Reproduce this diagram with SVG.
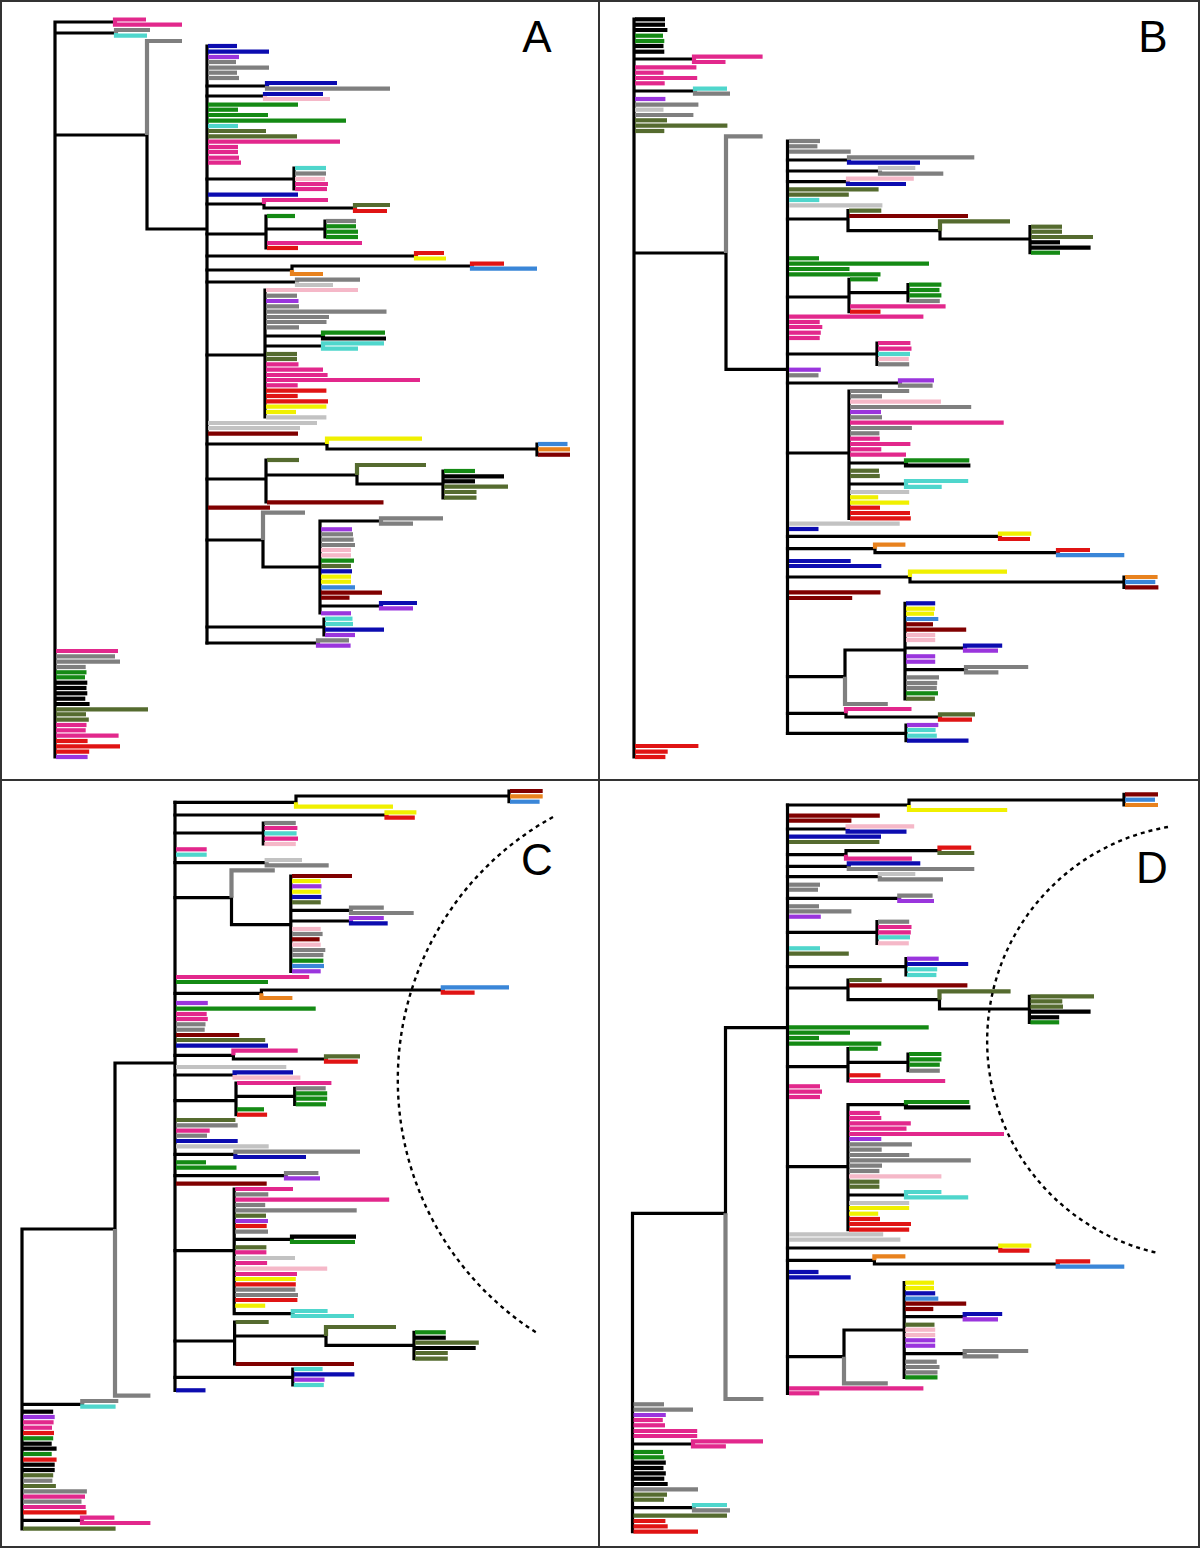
<svg xmlns="http://www.w3.org/2000/svg" width="1200" height="1548" viewBox="0 0 1200 1548">
<style>
path{fill:none}
.br path{stroke:#000;stroke-width:3.2;stroke-linecap:square}
.lv path{stroke-width:4.2}
.k{stroke:#000}.g{stroke:#7f7f7f}.s{stroke:#c2c2c2}.b{stroke:#0c0cb0}.d{stroke:#3a86d8}.p{stroke:#9a35dd}.m{stroke:#e2288c}.l{stroke:#f5b8c8}.n{stroke:#148a14}.o{stroke:#556b2f}.c{stroke:#4fd6cc}.r{stroke:#e01414}.x{stroke:#800000}.y{stroke:#f0f000}.e{stroke:#e8821e}
.lab{font-family:"Liberation Sans",Arial,sans-serif;font-size:44px;fill:#000;text-anchor:middle}
.arc{stroke:#000;stroke-width:2.4;stroke-dasharray:4,4}
</style>
<g id="frame"><rect x="1" y="1" width="1198" height="1546" fill="#fff" stroke="#333" stroke-width="2"/><path d="M599,0V1548M0,780H1200" stroke="#333" stroke-width="2"/></g>

<g id="panel-A">
<g id="A-connectors" class="br">
<path d="M55,22V757M55,22H115M55,33H116M55,135H147M147,135V229H207M207,46V643"/>
<path d="M207,86H267M207,96H265M207,179H294M294,168V189M207,204H264M264,204V208H355"/>
<path d="M207,234H266M266,216V248M266,229H325M325,221V237M207,256H416M207,270H292M292,270V266H472M207,282H297"/>
<path d="M207,355H265M265,290V417M265,336H323M265,346H323"/>
<path d="M207,444H327M327,444V449H537M537,444V455M207,479H266M266,460V502M266,475H357M357,475V484H443M443,471V498"/>
<path d="M207,540H263M263,540V567H320M320,521V613M320,521H381M320,606H381M207,627H324M324,619V635M207,643H318"/>
</g>
<g id="A-leaves" class="lv">
<path class="m" d="M115,22V19.5H146"/><path class="m" d="M115,22V24.7H182"/>
<path class="g" d="M116,33V30H150"/><path class="c" d="M116,33V35.7H147"/>
<path class="g" d="M147,135V41H182"/>
<path class="b" d="M208,46H237"/><path class="b" d="M208,51.7H269"/><path class="p" d="M208,57H239"/><path class="g" d="M208,62H236"/><path class="g" d="M208,67.7H269"/><path class="g" d="M208,72.7H237"/><path class="g" d="M208,78H239"/>
<path class="b" d="M267,86V83H337"/><path class="g" d="M267,86V88.7H390"/>
<path class="b" d="M265,96V94H323"/><path class="l" d="M265,96V99H330"/>
<path class="n" d="M208,104.7H298"/><path class="n" d="M208,109.7H238"/><path class="n" d="M208,115H268"/><path class="n" d="M208,120.7H346"/><path class="c" d="M208,126H238"/><path class="o" d="M208,131H266"/><path class="o" d="M208,136.3H297"/><path class="m" d="M208,141.7H340"/><path class="m" d="M208,147H238"/><path class="m" d="M208,152H238"/><path class="m" d="M208,157.7H239"/><path class="m" d="M208,162.7H241"/>
<path class="c" d="M295,168H326"/><path class="g" d="M295,173.5H326"/><path class="l" d="M295,179H325"/><path class="m" d="M295,184H328"/><path class="m" d="M295,189H327"/>
<path class="b" d="M208,194.7H298"/>
<path class="m" d="M264,204V200H328"/><path class="o" d="M355,208V205H390"/><path class="r" d="M355,208V211H387"/>
<path class="n" d="M267,216H295"/><path class="g" d="M326,221H356"/><path class="n" d="M326,226.3H356"/><path class="n" d="M326,231.7H358"/><path class="n" d="M326,237H358"/><path class="m" d="M267,243H362"/><path class="r" d="M267,248H298"/>
<path class="r" d="M416,256V253H444"/><path class="y" d="M416,256V258.5H446"/>
<path class="r" d="M472,266V263.7H504"/><path class="d" d="M472,266V268.7H537"/><path class="e" d="M292,270V274H323"/>
<path class="g" d="M297,282V279.7H360"/><path class="s" d="M297,282V285H333"/>
<path class="l" d="M266,290H358"/><path class="g" d="M266,295.7H297"/><path class="p" d="M266,301H298.5"/><path class="g" d="M266,306.3H299"/><path class="g" d="M266,311.7H386.5"/><path class="g" d="M266,317H329"/><path class="g" d="M266,322H326.5"/><path class="g" d="M266,327.3H299"/>
<path class="n" d="M323,336V332.7H385"/><path class="k" d="M323,336V338.5H386"/>
<path class="c" d="M323,346V343.3H384"/><path class="c" d="M323,346V348.7H358"/>
<path class="o" d="M266,354H297"/><path class="o" d="M266,359H297"/><path class="m" d="M266,364.3H298.5"/><path class="m" d="M266,369.7H323"/><path class="m" d="M266,375H327.6"/><path class="m" d="M266,380H420"/><path class="m" d="M266,385.3H297.7"/><path class="r" d="M266,390.7H326.4"/><path class="r" d="M266,396H297.7"/><path class="r" d="M266,401.3H328"/><path class="y" d="M266,406.7H326.4"/><path class="y" d="M266,412H296"/><path class="s" d="M266,417.3H326.4"/>
<path class="s" d="M208,423H317"/><path class="s" d="M208,428H300"/><path class="x" d="M208,433.7H298"/>
<path class="y" d="M327,444V438.7H422"/><path class="d" d="M538,444H567.5"/><path class="e" d="M538,449.3H570"/><path class="x" d="M538,454.7H570"/>
<path class="o" d="M267,460H299"/><path class="o" d="M357,475V465H426"/>
<path class="n" d="M444,471H475"/><path class="k" d="M444,476.3H504"/><path class="k" d="M444,481.3H475"/><path class="o" d="M444,486.7H508"/><path class="o" d="M444,492H476.5"/><path class="o" d="M444,497.7H476.5"/>
<path class="x" d="M267,502.3H383.5"/><path class="x" d="M208,507.7H270"/>
<path class="g" d="M263,540V512.7H305"/><path class="g" d="M381,521V518.3H443"/><path class="g" d="M381,521V523.7H413"/>
<path class="p" d="M321,529.3H352"/><path class="g" d="M321,534.3H353"/><path class="g" d="M321,539.7H353.6"/><path class="g" d="M321,545H355"/><path class="l" d="M321,550H351"/><path class="l" d="M321,555.3H351"/><path class="n" d="M321,560.7H354"/><path class="o" d="M321,566H351"/><path class="b" d="M321,571.3H352"/><path class="y" d="M321,576.7H351"/><path class="y" d="M321,581.7H351"/><path class="d" d="M321,587.3H355"/><path class="x" d="M321,592.7H382"/><path class="x" d="M321,597.7H349.5"/>
<path class="b" d="M381,606V603H417"/><path class="p" d="M381,606V608.3H413"/><path class="p" d="M321,613.3H351"/>
<path class="c" d="M325,618.7H352.5"/><path class="c" d="M325,624H353"/><path class="b" d="M325,629.7H384"/><path class="p" d="M325,635H355"/>
<path class="g" d="M318,643V640.3H349"/><path class="p" d="M318,643V645.7H350.6"/>
<path class="m" d="M56,651H118"/><path class="g" d="M56,656.3H115"/><path class="g" d="M56,661.7H120"/><path class="g" d="M56,667H85.7"/><path class="n" d="M56,672.3H86.5"/><path class="n" d="M56,677.3H85"/><path class="k" d="M56,682.7H87.3"/><path class="k" d="M56,688H86.5"/><path class="k" d="M56,693.3H87.3"/><path class="k" d="M56,698.7H85.3"/><path class="k" d="M56,704H89.6"/><path class="o" d="M56,709.3H148"/><path class="o" d="M56,714.3H86"/><path class="o" d="M56,719.7H88.8"/><path class="m" d="M56,725H86.5"/><path class="m" d="M56,730.3H85.7"/><path class="m" d="M56,735.7H118.6"/><path class="r" d="M56,741H87.6"/><path class="r" d="M56,746.3H120"/><path class="r" d="M56,751.7H89.2"/><path class="p" d="M56,757H87.6"/>
</g>
<text class="lab" x="537" y="52">A</text>
</g>

<g id="panel-B">
<g id="B-connectors" class="br">
<path d="M634,19V757M634,59H694M634,91H695M634,253H726M726,253V369.3H787.5M787.5,141V733.3"/>
<path d="M787.5,160H849M787.5,171H880M787.5,181.7H848M787.5,219H848M848,210.7V230.7M848,230.7H940M940,230.7V239H1030M1030,226.7V252.7"/>
<path d="M787.5,297H849M849,279.3V311.7M849,292.7H908M908,284.7V301M787.5,354H877M877,343V364.3M787.5,383H900"/>
<path d="M787.5,453H849M849,391V518.3M849,463H906M849,484H906"/>
<path d="M787.5,536.3H1000M787.5,548.7H875M875,548.7V552.7H1058M787.5,577H910M910,577V582H1124M1124,577V587.3"/>
<path d="M787.5,676.7H845M845,676.7V650H905M905,603.3V699M905,648H965M905,669.7H966M787.5,713.3H846M846,713.3V717H940M787.5,733.3H906M906,725V740.7"/>
</g>
<g id="B-leaves" class="lv">
<path class="k" d="M635,19.3H665"/><path class="k" d="M635,24.7H665"/><path class="k" d="M635,30H667.4"/><path class="n" d="M635,35.7H663"/><path class="n" d="M635,41H664.3"/><path class="k" d="M635,46H663.5"/><path class="k" d="M635,51.7H664.3"/>
<path class="m" d="M694,59V56.7H762.6"/><path class="m" d="M694,59V62H725.5"/>
<path class="m" d="M635,67.3H696.4"/><path class="m" d="M635,72.7H663.5"/><path class="m" d="M635,78H697.2"/><path class="m" d="M635,83.3H664.7"/>
<path class="c" d="M695,91V88.7H727"/><path class="g" d="M695,91V93.7H730"/>
<path class="p" d="M635,99H665.4"/><path class="g" d="M635,104.7H698.4"/><path class="s" d="M635,109.7H663.5"/><path class="g" d="M635,115H693.4"/><path class="o" d="M635,120.3H667"/><path class="o" d="M635,125.7H727.4"/><path class="o" d="M635,131H664.3"/>
<path class="g" d="M726,253V136.3H762.6"/>
<path class="g" d="M789,141H820"/><path class="g" d="M789,146.3H817.4"/><path class="g" d="M789,151.7H850.7"/>
<path class="g" d="M849,160V157.3H974.3"/><path class="b" d="M849,160V162.7H920"/>
<path class="s" d="M880,171V168H915.3"/><path class="g" d="M880,171V173.7H943.3"/>
<path class="l" d="M848,181.7V178.7H913.8"/><path class="b" d="M848,181.7V184H906"/>
<path class="o" d="M789,189.3H878.6"/><path class="o" d="M789,194.7H848.8"/><path class="c" d="M789,200H819.3"/><path class="s" d="M789,205.3H882.4"/>
<path class="o" d="M849,210.7H881.3"/><path class="x" d="M849,216H968"/><path class="o" d="M940,230.7V221.3H1010"/>
<path class="o" d="M1031,226.7H1062"/><path class="o" d="M1031,231.7H1062"/><path class="o" d="M1031,237H1093"/><path class="k" d="M1031,242.3H1060"/><path class="k" d="M1031,247.7H1090.6"/><path class="n" d="M1031,252.7H1060"/>
<path class="n" d="M789,258.3H819"/><path class="n" d="M789,263.7H929"/><path class="n" d="M789,269H849.5"/><path class="n" d="M789,274.3H880.5"/>
<path class="n" d="M850,279.3H877.8"/><path class="n" d="M909,284.7H941.4"/><path class="n" d="M909,290H939.5"/><path class="n" d="M909,295.3H941.4"/><path class="g" d="M909,301H939.8"/><path class="m" d="M850,306.3H945.6"/><path class="r" d="M850,311.7H880.5"/>
<path class="m" d="M789,316.7H923.4"/><path class="m" d="M789,322H819.7"/><path class="m" d="M789,327H822.3"/><path class="m" d="M789,332.7H820.8"/><path class="m" d="M789,338H819.7"/>
<path class="m" d="M878,343H910.4"/><path class="m" d="M878,348.7H911.5"/><path class="c" d="M878,354H910"/><path class="l" d="M878,359H908.8"/><path class="g" d="M878,364.3H909.2"/>
<path class="p" d="M789,369.7H820.8"/><path class="g" d="M789,375.3H818.5"/>
<path class="p" d="M900,383V380.3H934"/><path class="g" d="M900,383V385.7H932.6"/>
<path class="g" d="M850,391H909.2"/><path class="g" d="M850,396.3H882"/><path class="l" d="M850,401.7H941"/><path class="g" d="M850,407H971.2"/><path class="p" d="M850,412H881"/><path class="g" d="M850,417.3H882"/><path class="m" d="M850,422.7H1003.7"/><path class="g" d="M850,428H911.9"/><path class="g" d="M850,433.3H879.4"/><path class="m" d="M850,438.7H879.8"/><path class="m" d="M850,444H910.4"/><path class="m" d="M850,449.3H881.3"/><path class="m" d="M850,454.7H906"/>
<path class="n" d="M906,463V460.3H969.3"/><path class="k" d="M906,463V465.5H970.4"/>
<path class="o" d="M850,470.7H879"/><path class="o" d="M850,476H879.8"/>
<path class="c" d="M906,484V481H968.2"/><path class="c" d="M906,484V486.8H941.7"/>
<path class="s" d="M850,492H909.2"/><path class="y" d="M850,497.3H878.2"/><path class="y" d="M850,502.7H909.2"/><path class="r" d="M850,507.7H880"/><path class="r" d="M850,513H910"/><path class="r" d="M850,518.3H910.8"/>
<path class="s" d="M789,523.7H899.7"/><path class="b" d="M789,529H818.5"/>
<path class="y" d="M1000,536.3V533.7H1031.3"/><path class="r" d="M1000,536.3V539H1030"/>
<path class="e" d="M875,548.7V544.7H905.4"/><path class="r" d="M1058,552.7V550H1090"/><path class="d" d="M1058,552.7V555.2H1124.3"/>
<path class="b" d="M789,561H850.7"/><path class="b" d="M789,566H881.3"/>
<path class="y" d="M910,577V571.7H1007"/><path class="e" d="M1125,577H1157.6"/><path class="d" d="M1125,582H1155.3"/><path class="x" d="M1125,587.3H1158.4"/>
<path class="x" d="M789,592.3H880.5"/><path class="x" d="M789,598H852.2"/>
<path class="b" d="M906,603.3H935.2"/><path class="y" d="M906,608.7H934.9"/><path class="y" d="M906,613.7H934"/><path class="d" d="M906,619H938.3"/><path class="x" d="M906,624.3H933"/><path class="x" d="M906,629.7H966.2"/><path class="l" d="M906,635H935.2"/><path class="l" d="M906,640H935.2"/>
<path class="b" d="M965,648V645.7H1002.2"/><path class="p" d="M965,648V650.7H998"/>
<path class="p" d="M906,656.3H935.2"/><path class="p" d="M906,661.7H935.2"/>
<path class="g" d="M966,669.7V667H1028.2"/><path class="g" d="M966,669.7V672.3H998.4"/>
<path class="g" d="M906,677.3H939"/><path class="g" d="M906,683H937.2"/><path class="g" d="M906,688H936.8"/><path class="n" d="M906,693.3H938"/><path class="o" d="M906,698.7H934.9"/>
<path class="g" d="M845,676.7V704H887.8"/>
<path class="m" d="M846,713.3V709H911.5"/><path class="o" d="M940,717V714.3H975"/><path class="r" d="M940,717V719.7H972"/>
<path class="p" d="M907,725H938.3"/><path class="c" d="M907,730H935.6"/><path class="c" d="M907,735.7H936.8"/><path class="b" d="M907,740.7H968.5"/>
<path class="r" d="M635,746H698.4"/><path class="r" d="M635,751.7H667.7"/><path class="r" d="M635,757H665.4"/>
</g>
<text class="lab" x="1153" y="52">B</text>
</g>

<g id="panel-C">
<g id="C-connectors" class="br">
<path d="M22,1229V1529M22,1229H115M115,1229V1063H175M175,802.3V1390.3M22,1404.3H82.3M22,1520.3H82"/>
<path d="M175,802.3H296M296,802.3V796H509M509,791V801.7M175,815H386.5M175,833H263.3M263.3,823V844M175,862.7H266.7"/>
<path d="M175,897.7H231.5M231.5,897.7V924.7H290.8M290.8,876V971.3M290.8,910.3H351M290.8,921H351"/>
<path d="M175,993.3H261.4M261.4,993.3V990H442.8M175,1055.3H233.4M233.4,1055.3V1059H326M175,1075H234.6"/>
<path d="M175,1100.7H236M236,1083V1114.7M236,1096.3H294.7M294.7,1088.3V1104.3M175,1154.3H235.4M175,1175.7H286"/>
<path d="M175,1250.7H234.2M234.2,1189V1313.7M234.2,1239.3H292M234.2,1313.7H292.8"/>
<path d="M175,1341H234.6M234.6,1322V1364M234.6,1336H326M326,1336V1345.3H414M414,1332.3V1358.7M175,1377.3H292.8M292.8,1369V1385"/>
</g>
<g id="C-leaves" class="lv">
<path class="x" d="M510,791H542.7"/><path class="e" d="M510,796.3H542.7"/><path class="d" d="M510,801.7H539.6"/>
<path class="y" d="M296,802.3V806.7H393"/>
<path class="y" d="M386.5,815V812.3H416.4"/><path class="r" d="M386.5,815V817.7H414.8"/>
<path class="g" d="M264.3,823H295.8"/><path class="m" d="M264.3,828H297.4"/><path class="c" d="M264.3,833.3H296.6"/><path class="m" d="M264.3,838.7H298"/><path class="l" d="M264.3,844H295.8"/>
<path class="m" d="M176,849.3H206.7"/><path class="c" d="M176,854.7H206.7"/>
<path class="s" d="M266.7,862.7V860H302"/><path class="g" d="M266.7,862.7V865.3H328.7"/>
<path class="g" d="M231.5,897.7V870.3H274.8"/>
<path class="x" d="M292,876H352"/><path class="y" d="M292,881H320.7"/><path class="p" d="M292,886.3H321.5"/><path class="y" d="M292,891.7H320.7"/><path class="b" d="M292,897H321.5"/><path class="o" d="M292,902.3H320.7"/>
<path class="g" d="M351,910.3V907.7H383.8"/><path class="g" d="M351,910.3V913H413.7"/>
<path class="p" d="M351,921V918H383.8"/><path class="b" d="M351,921V923.3H387.7"/>
<path class="l" d="M292,929H320.7"/><path class="g" d="M292,934H322.6"/><path class="x" d="M292,939.3H319.6"/><path class="l" d="M292,944.7H320.7"/><path class="g" d="M292,950H325.3"/><path class="g" d="M292,955H323.4"/><path class="n" d="M292,960.7H323.4"/><path class="d" d="M292,966H324"/><path class="p" d="M292,971.3H320.7"/>
<path class="m" d="M176,977H309.2"/><path class="n" d="M176,982H268"/>
<path class="d" d="M442.8,990V987.3H509"/><path class="r" d="M442.8,990V992.7H474.6"/><path class="e" d="M261.4,993.3V998H292.4"/>
<path class="p" d="M176,1003H207.8"/><path class="n" d="M176,1008.7H315.7"/><path class="m" d="M176,1014H206.7"/><path class="m" d="M176,1019H207.8"/><path class="g" d="M176,1024.3H205.5"/><path class="g" d="M176,1029.7H204.7"/><path class="x" d="M176,1035H239.2"/><path class="o" d="M176,1040H265.2"/><path class="b" d="M176,1045.7H268"/>
<path class="m" d="M233.4,1055.3V1050.7H297.7"/><path class="o" d="M326,1059V1056.3H360"/><path class="r" d="M326,1059V1061.7H357.8"/>
<path class="s" d="M176,1067H286.3"/>
<path class="b" d="M234.6,1075V1072.3H293"/><path class="l" d="M234.6,1075V1077.7H300.4"/>
<path class="m" d="M237,1083H331.4"/><path class="g" d="M295.7,1088.3H325.7"/><path class="n" d="M295.7,1093.3H327.2"/><path class="n" d="M295.7,1098.7H327.2"/><path class="n" d="M295.7,1104.3H326"/><path class="n" d="M237,1109.3H264"/><path class="r" d="M237,1114.7H267.1"/>
<path class="o" d="M176,1120H235.4"/><path class="g" d="M176,1125.3H237.7"/><path class="m" d="M176,1130.7H209.7"/><path class="g" d="M176,1135.7H207"/><path class="b" d="M176,1141H237.7"/><path class="s" d="M176,1146.3H268.7"/>
<path class="g" d="M235.4,1154.3V1151.7H360"/><path class="b" d="M235.4,1154.3V1157H306"/>
<path class="n" d="M176,1162.3H206"/><path class="n" d="M176,1167.7H236.5"/>
<path class="g" d="M286,1175.7V1173H318.4"/><path class="p" d="M286,1175.7V1178.3H320"/>
<path class="x" d="M176,1183.7H266.7"/>
<path class="m" d="M235.2,1189H293"/><path class="g" d="M235.2,1194.3H268.3"/><path class="m" d="M235.2,1199.7H389.2"/><path class="g" d="M235.2,1205H265.2"/><path class="g" d="M235.2,1210.3H356.7"/><path class="o" d="M235.2,1215.7H266"/><path class="p" d="M235.2,1221H268"/><path class="r" d="M235.2,1226H266.7"/><path class="g" d="M235.2,1231.7H268"/>
<path class="k" d="M292,1239.3V1236.7H356"/><path class="n" d="M292,1239.3V1242H355"/>
<path class="o" d="M235.2,1247.3H266.4"/><path class="m" d="M235.2,1252.3H266.4"/><path class="s" d="M235.2,1258H295"/><path class="m" d="M235.2,1263H267.1"/><path class="l" d="M235.2,1268.7H327.2"/><path class="m" d="M235.2,1274H297"/><path class="y" d="M235.2,1279H295.8"/><path class="r" d="M235.2,1284.3H295.8"/><path class="g" d="M235.2,1289.7H295.4"/><path class="g" d="M235.2,1295H298"/><path class="r" d="M235.2,1300H297.4"/><path class="y" d="M235.2,1305.7H265.2"/>
<path class="c" d="M292.8,1313.7V1311H327.6"/><path class="c" d="M292.8,1313.7V1316H354"/>
<path class="o" d="M235.6,1322H268.7"/><path class="o" d="M326,1336V1327H396"/>
<path class="n" d="M415,1332.3H445.8"/><path class="k" d="M415,1337.7H445.8"/><path class="o" d="M415,1342.7H478.8"/><path class="k" d="M415,1348H475.7"/><path class="o" d="M415,1353H447.8"/><path class="o" d="M415,1358.7H447.8"/>
<path class="x" d="M235.6,1364H354"/>
<path class="c" d="M293.8,1369H322.6"/><path class="b" d="M293.8,1374.3H354.4"/><path class="p" d="M293.8,1379.7H324.5"/><path class="c" d="M293.8,1385H323.8"/>
<path class="b" d="M176,1390.3H205.5"/>
<path class="g" d="M115,1229V1395.7H150.4"/>
<path class="g" d="M82.3,1404.3V1401H118.3"/><path class="c" d="M82.3,1404.3V1406.7H115.6"/>
<path class="k" d="M23,1411.7H53.2"/><path class="p" d="M23,1417H54.7"/><path class="m" d="M23,1422.3H53.6"/><path class="m" d="M23,1427.7H52"/><path class="r" d="M23,1433H54"/><path class="n" d="M23,1438.3H53.2"/><path class="k" d="M23,1443.7H51.7"/><path class="k" d="M23,1448.7H56.6"/><path class="n" d="M23,1454H51.7"/><path class="r" d="M23,1459.7H56.6"/><path class="k" d="M23,1464.7H54.7"/><path class="k" d="M23,1470H54.7"/><path class="o" d="M23,1475.3H53.2"/><path class="g" d="M23,1480.7H52.4"/><path class="o" d="M23,1486H55.9"/><path class="g" d="M23,1491.3H86.9"/><path class="m" d="M23,1496.7H85"/><path class="g" d="M23,1501.7H81.5"/><path class="m" d="M23,1507H85.7"/><path class="r" d="M23,1512.3H86.5"/>
<path class="m" d="M82,1520.3V1517.7H114.4"/><path class="m" d="M82,1520.3V1523H150.4"/>
<path class="o" d="M23,1528.7H115.6"/>
</g>
<path class="arc" d="M553,817A300,300 0 0 0 537,1333"/>
<text class="lab" x="537" y="875">C</text>
</g>

<g id="panel-D">
<g id="D-connectors" class="br">
<path d="M632.5,1213.3V1531.7M632.5,1213.3H725.5M725.5,1213.3V1027.7H787.5M787.5,805V1393.3M632.5,1444H693M632.5,1507.7H694"/>
<path d="M787.5,805H909M909,805V800H1124M1124,794.3V805M787.5,829H847.6M787.5,854.7H846M846,854.7V850.7H939.5M787.5,866.3H848.8M787.5,876.7H879.8M787.5,898.3H899.3"/>
<path d="M787.5,932.3H877M877,921.7V943.3M787.5,966.7H906M906,958.7V975M787.5,988H848M848,980V999.7M848,999.7H939.5M939.5,999.7V1009H1029.4M1029.4,996.3V1022.3"/>
<path d="M787.5,1066.7H848M848,1048.7V1081M848,1062.3H908M908,1054V1070.7M787.5,1166.7H848M848,1104.7V1229.7M848,1104.7H906M848,1195H906"/>
<path d="M787.5,1248H1000.3M787.5,1260.3H874.4M874.4,1260.3V1264H1057.7M787.5,1356.7H844M844,1356.7V1330H904.2M904.2,1282.7V1377.3M904.2,1316.7H964.7M904.2,1353.7H964.7"/>
</g>
<g id="D-leaves" class="lv">
<path class="x" d="M1125,794.3H1158"/><path class="d" d="M1125,799.7H1155"/><path class="e" d="M1125,805H1158"/>
<path class="y" d="M909,805V810H1007.2"/>
<path class="x" d="M789,815.7H879.8"/><path class="x" d="M789,820.7H851.4"/>
<path class="l" d="M847.6,829V826.3H914.2"/><path class="b" d="M847.6,829V831.7H906.5"/>
<path class="b" d="M789,836.7H881"/><path class="o" d="M789,842H879.4"/>
<path class="r" d="M939.5,850.7V847.7H971.2"/><path class="o" d="M939.5,850.7V853H974.3"/><path class="m" d="M846,854.7V858.7H911.9"/>
<path class="b" d="M848.8,866.3V863.3H920.3"/><path class="g" d="M848.8,866.3V869H974.3"/>
<path class="s" d="M879.8,876.7V874H915.3"/><path class="g" d="M879.8,876.7V879.3H943"/>
<path class="g" d="M789,884.7H820"/><path class="g" d="M789,889.7H818"/>
<path class="g" d="M899.3,898.3V895.7H932.6"/><path class="p" d="M899.3,898.3V901H934"/>
<path class="g" d="M789,906.3H819"/><path class="g" d="M789,911.3H851.4"/><path class="p" d="M789,916.7H820.8"/>
<path class="g" d="M878,921.7H909.2"/><path class="m" d="M878,927H911.5"/><path class="m" d="M878,932.3H910.8"/><path class="c" d="M878,937.3H910"/><path class="l" d="M878,943.3H908.8"/>
<path class="c" d="M789,948.3H820"/><path class="o" d="M789,953.7H848.8"/>
<path class="p" d="M907,958.7H938.7"/><path class="b" d="M907,964H968.2"/><path class="c" d="M907,969.3H937.2"/><path class="c" d="M907,975H936.4"/>
<path class="o" d="M849,980H881.7"/><path class="x" d="M849,985.3H967.4"/><path class="o" d="M939.5,999.7V991.3H1010.6"/>
<path class="o" d="M1030.4,996.3H1094"/><path class="o" d="M1030.4,1001.3H1062.3"/><path class="o" d="M1030.4,1006.7H1063"/><path class="k" d="M1030.4,1011.7H1090.6"/><path class="k" d="M1030.4,1017.3H1059.2"/><path class="n" d="M1030.4,1022.3H1059.2"/>
<path class="n" d="M789,1027.3H928.7"/><path class="n" d="M789,1032.7H850"/><path class="n" d="M789,1038H819"/><path class="n" d="M789,1043.7H881.3"/>
<path class="n" d="M849,1048.7H877.8"/><path class="n" d="M909,1054H941.4"/><path class="n" d="M909,1059.3H941.4"/><path class="n" d="M909,1064.7H939.8"/><path class="g" d="M909,1070.7H939.8"/><path class="r" d="M849,1075.3H880.5"/><path class="m" d="M849,1081H945.2"/>
<path class="m" d="M789,1086.3H820"/><path class="m" d="M789,1091.7H822"/><path class="m" d="M789,1097H820"/>
<path class="n" d="M906,1104.7V1102H969.3"/><path class="k" d="M906,1104.7V1107.3H970.4"/>
<path class="m" d="M849,1113H879.8"/><path class="m" d="M849,1118H881.3"/><path class="m" d="M849,1123.3H910.8"/><path class="m" d="M849,1128.7H906.5"/><path class="m" d="M849,1134H1004"/><path class="p" d="M849,1139H881.3"/><path class="g" d="M849,1144.3H911.9"/><path class="g" d="M849,1149.7H881.7"/><path class="g" d="M849,1155H909.2"/><path class="g" d="M849,1160.3H970.8"/><path class="g" d="M849,1165.7H882"/><path class="g" d="M849,1171H879.4"/><path class="l" d="M849,1176.3H941.4"/><path class="o" d="M849,1181.7H879.4"/><path class="o" d="M849,1186.7H879.4"/>
<path class="c" d="M906,1195V1192H941.4"/><path class="c" d="M906,1195V1197.3H968.2"/>
<path class="s" d="M849,1203H909.2"/><path class="y" d="M849,1208H909.2"/><path class="y" d="M849,1213.7H878.2"/><path class="r" d="M849,1219H880"/><path class="r" d="M849,1224H911"/><path class="r" d="M849,1229.7H909.2"/>
<path class="s" d="M789,1234.3H883.2"/><path class="s" d="M789,1239.7H900.4"/>
<path class="y" d="M1000.3,1248V1245.7H1031.3"/><path class="r" d="M1000.3,1248V1250.7H1029.4"/>
<path class="e" d="M874.4,1260.3V1256.3H905.4"/><path class="r" d="M1057.7,1264V1261.3H1090.2"/><path class="d" d="M1057.7,1264V1266.7H1124.3"/>
<path class="b" d="M789,1272H818.5"/><path class="b" d="M789,1277.3H850.7"/>
<path class="y" d="M905.2,1282.7H934"/><path class="y" d="M905.2,1288H934"/><path class="b" d="M905.2,1293.3H935.2"/><path class="d" d="M905.2,1298.7H938.3"/><path class="x" d="M905.2,1303.7H966.2"/><path class="x" d="M905.2,1309H933.3"/>
<path class="b" d="M964.7,1316.7V1314H1002.2"/><path class="p" d="M964.7,1316.7V1319.3H998"/>
<path class="o" d="M905.2,1324.7H934.5"/><path class="l" d="M905.2,1329.7H935.2"/><path class="l" d="M905.2,1335H935.2"/><path class="p" d="M905.2,1340.3H935.2"/><path class="p" d="M905.2,1345.7H935.2"/>
<path class="g" d="M964.7,1353.7V1351H1028.2"/><path class="g" d="M964.7,1353.7V1356.3H998.4"/>
<path class="g" d="M905.2,1361.7H936.8"/><path class="g" d="M905.2,1367H939.5"/><path class="g" d="M905.2,1372.3H937.5"/><path class="n" d="M905.2,1377.3H937.5"/>
<path class="g" d="M844,1356.7V1383.3H887.8"/>
<path class="m" d="M789,1388.3H923.4"/><path class="m" d="M789,1393.3H819.3"/>
<path class="g" d="M725.5,1213.3V1399H763.4"/>
<path class="g" d="M633.5,1404.3H664"/><path class="g" d="M633.5,1409.7H693"/><path class="p" d="M633.5,1415H665.8"/><path class="m" d="M633.5,1420H662.8"/><path class="m" d="M633.5,1425.3H665"/><path class="m" d="M633.5,1431H697.2"/><path class="m" d="M633.5,1436H697.2"/>
<path class="m" d="M693,1444V1441.3H763"/><path class="m" d="M693,1444V1446.3H725.9"/>
<path class="n" d="M633.5,1452H663"/><path class="n" d="M633.5,1457.3H664.3"/><path class="k" d="M633.5,1462.7H665.8"/><path class="k" d="M633.5,1468H663.5"/><path class="k" d="M633.5,1473.3H665.8"/><path class="k" d="M633.5,1478.7H664.3"/><path class="k" d="M633.5,1484H667.7"/><path class="g" d="M633.5,1489.3H698"/><path class="o" d="M633.5,1494.7H667"/><path class="o" d="M633.5,1499.7H664"/>
<path class="c" d="M694,1507.7V1505H727"/><path class="g" d="M694,1507.7V1510.3H730"/>
<path class="o" d="M633.5,1515.7H727"/><path class="r" d="M633.5,1521H665.4"/><path class="r" d="M633.5,1526.3H667.7"/><path class="r" d="M633.5,1531.7H698"/>
</g>
<path class="arc" d="M1168,827A217,217 0 0 0 1158,1253"/>
<text class="lab" x="1152" y="883">D</text>
</g>
</svg>
